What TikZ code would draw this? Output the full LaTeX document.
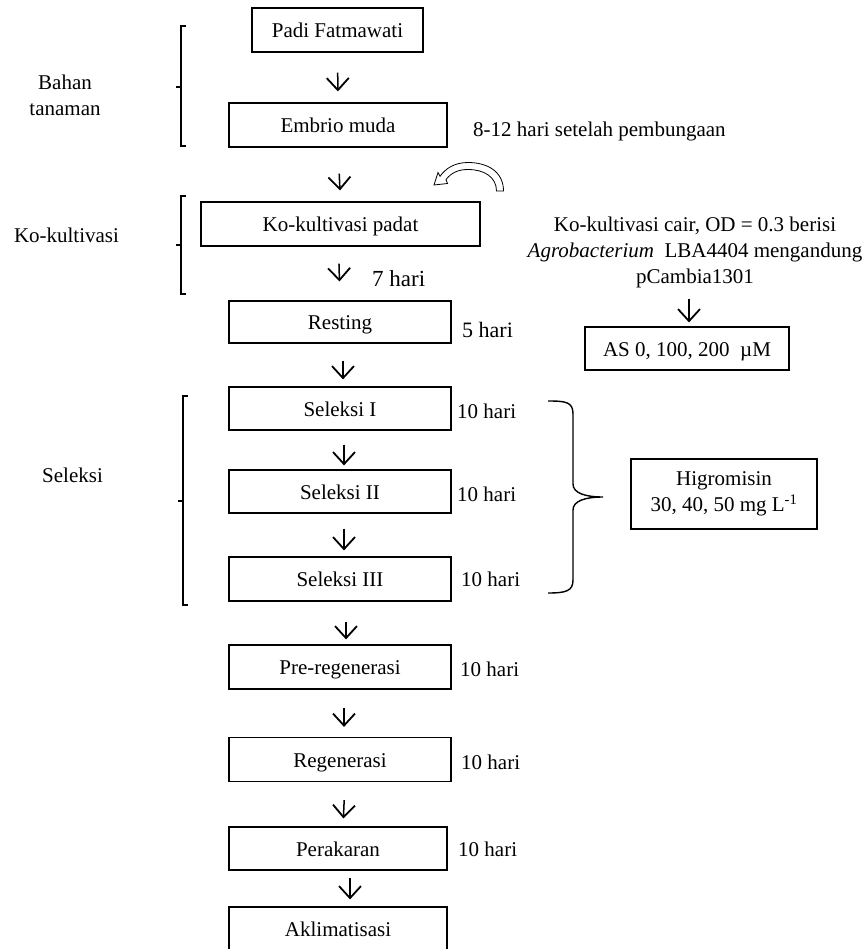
\documentclass[tikz,border=0pt]{standalone}
\usepackage{fontspec}
\setmainfont{Liberation Serif}
\usetikzlibrary{arrows.meta}
\begin{document}
\begin{tikzpicture}[x=1pt,y=-1pt,
  every node/.style={font=\fontsize{21}{26}\selectfont, inner sep=0pt},
  box/.style={draw, line width=1.2pt, minimum height=44pt, text height=15.5pt, text depth=0.5pt},
  flow/.style={line width=1.5pt, -{Straight Barb[length=12pt,width=22pt,line width=1.8pt]}},
  brk/.style={line width=1.4pt}]
\useasboundingbox (0,0) rectangle (867,949);

% main boxes
\node[box, minimum width=171pt] (padi) at (337.5,30) {Padi Fatmawati};
\node[box, minimum width=218pt] (embrio) at (338,125) {Embrio muda};
\node[box, minimum width=279pt] (kok) at (340.5,224) {Ko-kultivasi padat};
\node[box, minimum width=222pt, minimum height=42pt] (rest) at (340,322) {Resting};
\node[box, minimum width=222pt, minimum height=43pt] (sel1) at (340,408.5) {Seleksi I};
\node[box, minimum width=222pt, minimum height=43pt] (sel2) at (340,491.5) {Seleksi II};
\node[box, minimum width=222pt] (sel3) at (340,579) {Seleksi III};
\node[box, minimum width=222pt] (pre) at (340,667) {Pre-regenerasi};
\node[box, minimum width=222pt] (reg) at (340,759.5) {Regenerasi};
\node[box, minimum width=218pt, minimum height=43pt] (per) at (338,848.5) {Perakaran};
\node[box, minimum width=218pt] (akl) at (338,929) {Aklimatisasi};

% flow arrows
\draw[flow, shorten <=20pt, shorten >=11pt] (padi.south) -- (embrio.north);
\draw[flow, shorten <=26pt, shorten >=11pt] (embrio.south) -- (kok.north);
\draw[flow, shorten <=17pt, shorten >=19pt] ([xshift=-2pt]kok.south) -- (rest.north);
\draw[flow, shorten <=17pt, shorten >=7pt] ([xshift=3pt]rest.south) -- ([xshift=3pt]sel1.north);
\draw[flow, shorten <=14pt, shorten >=4pt] ([xshift=4pt]sel1.south) -- ([xshift=4pt]sel2.north);
\draw[flow, shorten <=15pt, shorten >=6pt] ([xshift=4pt]sel2.south) -- ([xshift=4pt]sel3.north);
\draw[flow, shorten <=20pt, shorten >=5pt] ([xshift=6pt]sel3.south) -- ([xshift=6pt]pre.north);
\draw[flow, shorten <=18pt, shorten >=10pt] ([xshift=4pt]pre.south) -- ([xshift=4pt]reg.north);
\draw[flow, shorten <=18pt, shorten >=8pt] ([xshift=5pt]reg.south) -- ([xshift=5pt]per.north);
\draw[flow, shorten <=7pt, shorten >=7pt] ([xshift=12pt]per.south) -- ([xshift=12pt]akl.north);

% duration labels
\node[anchor=base west] (tpemb) at (473,137) {8-12 hari setelah pembungaan};
\node[anchor=base west, font=\fontsize{23}{26}\selectfont] (t7) at (372,287) {7 hari};
\node[anchor=base west, font=\fontsize{22}{26}\selectfont] (t5) at (462,337) {5 hari};
\node[anchor=base west] (t10a) at (457,418) {10 hari};
\node[anchor=base west] (t10b) at (457,501) {10 hari};
\node[anchor=base west] (t10c) at (461,586) {10 hari};
\node[anchor=base west] (t10d) at (460,676) {10 hari};
\node[anchor=base west] (t10e) at (461,769) {10 hari};
\node[anchor=base west] (t10f) at (458,856) {10 hari};

% left group labels
\node[align=center] (bahan) at (65,95) {Bahan\\tanaman};
\node (kolab) at (66.5,235) {Ko-kultivasi};
\node (sellab) at (72.5,475) {Seleksi};

% left brackets
\draw[brk] (186,26) -- (181,26) -- (181,146) -- (186,146);
\draw[brk] (176,87) -- (181,87);
\draw[brk] (186,196) -- (181,196) -- (181,294) -- (186,294);
\draw[brk] (176,245) -- (181,245);
\draw[brk] (188,396) -- (183,396) -- (183,605) -- (188,605);
\draw[brk] (178,501) -- (183,501);

% right side: liquid co-cultivation
\node[align=center] (cair) at (695,252) {Ko-kultivasi cair, OD = 0.3 berisi\\\textit{Agrobacterium}\ \ LBA4404 mengandung\\pCambia1301};
\node[box, minimum width=204pt, minimum height=43pt] (as) at (687,348.5) {AS 0, 100, 200\ \ µM};
\draw[flow, shorten <=11pt, shorten >=4pt] ([xshift=2pt]as.north |- cair.south) -- ([xshift=2pt]as.north);

% curved hollow arrow
\draw[line width=0.8pt, fill=white] (503.5,191) .. controls (503.5,172) and (488,162.5) .. (468,162.5)
  .. controls (455,162.5) and (446,168) .. (440,176.3) -- (438,172.5) -- (434,185) -- (447.5,183.5)
  -- (446,179.6) .. controls (451,173) and (458,169.5) .. (468,169.5)
  .. controls (484,169.5) and (496.5,177) .. (496.5,191) -- cycle;

% right brace and hygromycin box
\draw[brk] (548,401) .. controls (566,401) and (573,402) .. (573,414) -- (573,484)
  .. controls (573,493) and (585,497) .. (603,497)
  .. controls (585,497) and (573,501) .. (573,510) -- (573,580)
  .. controls (573,591) and (566,593) .. (548,593);
\node[box, minimum width=186pt, minimum height=70pt, align=center, text height=, text depth=] (hig) at (724,494) {Higromisin\\30, 40, 50 mg L\textsuperscript{-1}};
\end{tikzpicture}
\end{document}
